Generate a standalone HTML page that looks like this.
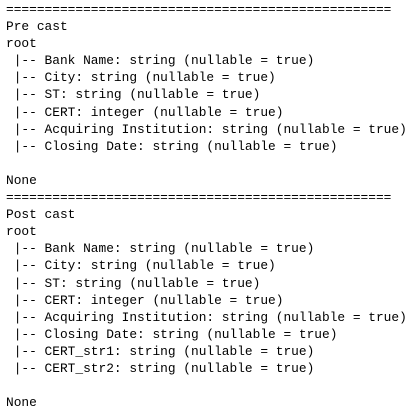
<!DOCTYPE html>
<html><head><style>
body{margin:0;background:#fff;width:408px;height:411px;overflow:hidden}
pre{margin:0;padding:1px 0 0 6px;font-family:"Liberation Mono",monospace;font-size:12.85px;line-height:17.1px;color:#000}
</style></head><body><pre>==================================================
Pre cast
root
 |-- Bank Name: string (nullable = true)
 |-- City: string (nullable = true)
 |-- ST: string (nullable = true)
 |-- CERT: integer (nullable = true)
 |-- Acquiring Institution: string (nullable = true)
 |-- Closing Date: string (nullable = true)

None
==================================================
Post cast
root
 |-- Bank Name: string (nullable = true)
 |-- City: string (nullable = true)
 |-- ST: string (nullable = true)
 |-- CERT: integer (nullable = true)
 |-- Acquiring Institution: string (nullable = true)
 |-- Closing Date: string (nullable = true)
 |-- CERT_str1: string (nullable = true)
 |-- CERT_str2: string (nullable = true)

None</pre></body></html>
